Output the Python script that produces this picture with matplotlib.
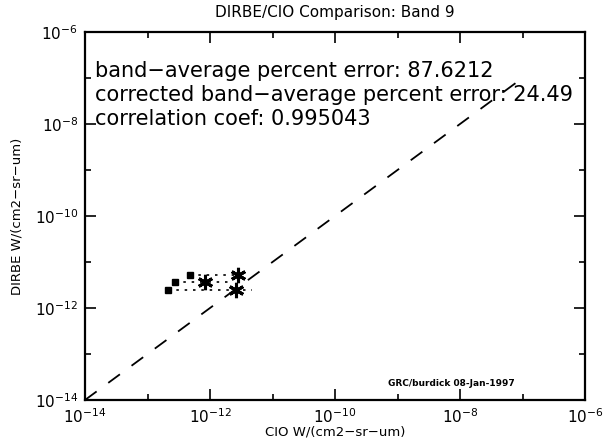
import matplotlib
matplotlib.use("Agg")
import matplotlib.pyplot as plt
import numpy as np
from matplotlib.ticker import FixedLocator, NullFormatter

# DIRBE (y) vs CIO (x), W/(cm2-sr-um)
dirbe = [2.45e-12, 3.7e-12, 5.2e-12]
cio_raw = [2.1e-13, 2.75e-13, 4.8e-13]
cio_corr = [2.6e-12, 8.3e-13, 2.8e-12]
cio_span_hi = [4.7e-12, 1.95e-12, 2.8e-12]

one_to_one = [1e-14, 8e-8]

stats_lines = [
    "band\u2212average percent error: 87.6212",
    "corrected band\u2212average percent error: 24.49",
    "correlation coef: 0.995043",
]

plt.rcParams["font.family"] = "DejaVu Sans"
plt.rcParams["mathtext.fontset"] = "dejavusans"

fig = plt.figure(figsize=(6.13, 4.42), dpi=100)
ax = fig.add_axes([85 / 613, 1 - 400 / 442, 500 / 613, 368 / 442])
ax.set_xscale("log")
ax.set_yscale("log")
ax.set_xlim(1e-14, 1e-6)
ax.set_ylim(1e-14, 1e-6)

# 1:1 line
ax.plot(one_to_one, one_to_one, color="black", linewidth=1.3,
        dashes=(8, 8))

for x0, x1, y in zip(cio_raw, cio_span_hi, dirbe):
    ax.plot([x0, x1], [y, y], color="black", linewidth=1.2, dashes=(1.5, 3.5))

ax.plot(cio_raw, dirbe, linestyle="none", marker="s", markersize=4,
        color="black")
ax.plot(cio_corr, dirbe, linestyle="none", marker=(6, 2, 0), markersize=11,
        markeredgewidth=2.2, color="black")

major = [1e-14, 1e-12, 1e-10, 1e-8, 1e-6]
minor = [1e-13, 1e-11, 1e-9, 1e-7]
for axis in (ax.xaxis, ax.yaxis):
    axis.set_major_locator(FixedLocator(major))
    axis.set_minor_locator(FixedLocator(minor))
    axis.set_minor_formatter(NullFormatter())

ax.tick_params(which="both", direction="in", top=True, right=True,
               width=1.2, labelsize=11, pad=5)
ax.tick_params(which="major", length=8)
ax.tick_params(which="minor", length=4)
for sp in ax.spines.values():
    sp.set_linewidth(1.6)

ax.set_title("DIRBE/CIO Comparison: Band 9", fontsize=11, pad=11)
ax.set_xlabel("CIO W/(cm2\u2212sr\u2212um)", fontsize=9.5, labelpad=0)
ax.set_ylabel("DIRBE W/(cm2\u2212sr\u2212um)", fontsize=9.5, labelpad=8)

for i, line in enumerate(stats_lines):
    ax.text(0.02, 0.895 - i * 0.066, line, transform=ax.transAxes,
            fontsize=15, va="center", ha="left")

ax.text(0.605, 0.045, "GRC/burdick 08-Jan-1997", transform=ax.transAxes,
        fontsize=6.5, fontweight="bold", va="center", ha="left")

fig.savefig("out.png", dpi=100)
